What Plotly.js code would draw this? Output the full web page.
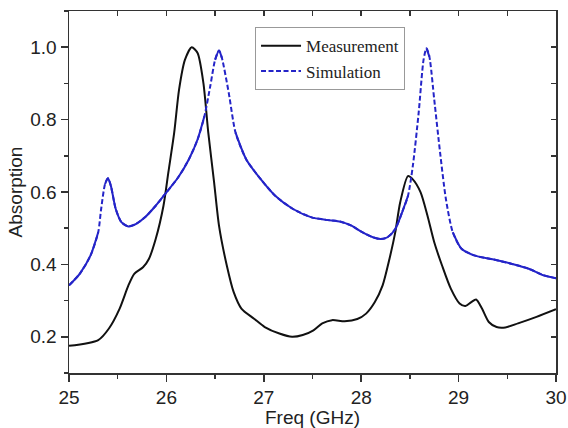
<!DOCTYPE html>
<html>
<head>
<meta charset="utf-8">
<script src="https://cdn.plot.ly/plotly-3.0.1.min.js"></script>
<style>html,body{margin:0;padding:0;background:#fff;}#chart{width:568px;height:428px;}</style>
</head>
<body>
<div id="chart"></div>
<script>
// Measurement (black solid)
const measFreq = [25.0, 25.30, 25.41, 25.52, 25.61, 25.67, 25.76, 25.82, 25.89, 25.97, 26.02, 26.08, 26.13, 26.19, 26.26, 26.32, 26.38, 26.43, 26.49, 26.54, 26.62, 26.69, 26.77, 26.90, 27.01, 27.16, 27.29, 27.40, 27.51, 27.60, 27.70, 27.83, 27.96, 28.05, 28.14, 28.22, 28.29, 28.35, 28.40, 28.48, 28.53, 28.61, 28.68, 28.75, 28.83, 28.92, 29.01, 29.07, 29.13, 29.18, 29.24, 29.31, 29.39, 29.48, 29.61, 29.80, 30.0];
const measAbs = [0.175, 0.191, 0.223, 0.278, 0.342, 0.374, 0.392, 0.415, 0.47, 0.562, 0.654, 0.764, 0.883, 0.965, 1.0, 0.984, 0.901, 0.764, 0.626, 0.507, 0.397, 0.324, 0.278, 0.25, 0.227, 0.209, 0.2, 0.205, 0.218, 0.237, 0.246, 0.243, 0.249, 0.264, 0.296, 0.342, 0.415, 0.489, 0.571, 0.644, 0.635, 0.599, 0.535, 0.461, 0.397, 0.333, 0.292, 0.285, 0.296, 0.303, 0.278, 0.241, 0.227, 0.226, 0.237, 0.255, 0.276];

// Simulation (blue dashed)
const simFreq = [25.0, 25.11, 25.22, 25.30, 25.33, 25.37, 25.40, 25.43, 25.48, 25.54, 25.61, 25.69, 25.78, 25.89, 26.00, 26.12, 26.23, 26.32, 26.39, 26.45, 26.50, 26.54, 26.57, 26.64, 26.71, 26.82, 26.97, 27.12, 27.30, 27.49, 27.64, 27.79, 27.90, 28.01, 28.12, 28.20, 28.27, 28.35, 28.42, 28.48, 28.53, 28.59, 28.64, 28.67, 28.70, 28.75, 28.81, 28.87, 28.94, 29.03, 29.16, 29.35, 29.54, 29.72, 29.87, 30.0];
const simAbs = [0.342, 0.374, 0.424, 0.489, 0.553, 0.622, 0.638, 0.617, 0.553, 0.516, 0.505, 0.512, 0.53, 0.562, 0.599, 0.64, 0.69, 0.745, 0.809, 0.892, 0.965, 0.991, 0.97, 0.874, 0.764, 0.69, 0.635, 0.589, 0.553, 0.53, 0.523, 0.518, 0.507, 0.489, 0.475, 0.47, 0.475, 0.498, 0.544, 0.589, 0.672, 0.819, 0.965, 0.997, 0.974, 0.855, 0.709, 0.58, 0.489, 0.443, 0.425, 0.414, 0.402, 0.388, 0.37, 0.362];

const seriesNames = ['Measurement', 'Simulation'];
const xTitle = 'Freq (GHz)';
const yTitle = 'Absorption';

// Where the simulated curve is gentle it renders as a continuous line (as in the source plot);
// steep stretches show the dash pattern.
const slopeLimit = 3.6; // in pixel-ratio terms
const pxPerX = 97.4, pxPerY = 362.5;
const simSolid = simAbs.map((v, i) => {
  const sl = (j, k) => Math.abs((simAbs[k] - simAbs[j]) * pxPerY / ((simFreq[k] - simFreq[j]) * pxPerX));
  const a = i > 0 ? sl(i - 1, i) : 0;
  const b = i < simAbs.length - 1 ? sl(i, i + 1) : 0;
  return (a > slopeLimit && b > slopeLimit) ? null : v;
});

const blue = '#2424c8';
const tickFont = {family: 'Liberation Sans, Arial, sans-serif', size: 19, color: '#222'};

const traces = [
  {x: measFreq, y: measAbs, name: seriesNames[0], type: 'scatter', mode: 'lines',
   line: {color: '#111', width: 2, shape: 'spline', smoothing: 0.7}},
  {x: simFreq, y: simAbs, name: seriesNames[1], type: 'scatter', mode: 'lines',
   line: {color: blue, width: 2, dash: '5px,2.5px', shape: 'spline', smoothing: 0.7}},
  {x: simFreq, y: simSolid, name: seriesNames[1], type: 'scatter', mode: 'lines', showlegend: false,
   connectgaps: false,
   line: {color: blue, width: 2, shape: 'spline', smoothing: 0.7}},
  // invisible helper trace carrying mirrored inside ticks on top/right
  {x: [25, 30], y: [0.1, 1.1], xaxis: 'x2', yaxis: 'y2', mode: 'none', showlegend: false, hoverinfo: 'skip'}
];

const layout = {
  width: 568, height: 428,
  margin: {l: 69, r: 12, t: 11, b: 55},
  paper_bgcolor: '#fff', plot_bgcolor: '#fff',
  showlegend: true,
  legend: {x: 0.382, y: 0.955, xanchor: 'left', yanchor: 'top',
    bgcolor: '#fff', bordercolor: '#999', borderwidth: 1,
    font: {family: 'Liberation Serif, Times New Roman, serif', size: 17, color: '#222'},
    tracegroupgap: 0, itemwidth: 40},
  xaxis: {range: [25, 30], dtick: 1, tick0: 25, showgrid: false, zeroline: false,
    showline: true, linecolor: '#333', linewidth: 1.5, mirror: true,
    ticks: 'outside', ticklen: 7, tickwidth: 1.5, tickcolor: '#333',
    minor: {dtick: 0.5, ticks: 'outside', ticklen: 4, tickwidth: 1.5, tickcolor: '#333', showgrid: false},
    tickfont: tickFont,
    title: {text: xTitle, font: tickFont, standoff: 2}},
  yaxis: {range: [0.1, 1.1], dtick: 0.2, tick0: 0, tickformat: '.1f', showgrid: false, zeroline: false,
    showline: true, linecolor: '#333', linewidth: 1.5, mirror: true,
    ticks: 'outside', ticklen: 7, tickwidth: 1.5, tickcolor: '#333',
    minor: {dtick: 0.1, ticks: 'outside', ticklen: 4, tickwidth: 1.5, tickcolor: '#333', showgrid: false},
    tickfont: tickFont,
    title: {text: yTitle, font: tickFont, standoff: 2}},
  xaxis2: {overlaying: 'x', side: 'top', range: [25, 30], dtick: 0.5, tick0: 25,
    ticks: 'inside', ticklen: 5, tickwidth: 1.5, tickcolor: '#333',
    showticklabels: false, showgrid: false, zeroline: false, showline: false},
  yaxis2: {overlaying: 'y', side: 'right', range: [0.1, 1.1], dtick: 0.1, tick0: 0,
    ticks: 'inside', ticklen: 5, tickwidth: 1.5, tickcolor: '#333',
    showticklabels: false, showgrid: false, zeroline: false, showline: false}
};

Plotly.newPlot('chart', traces, layout, {staticPlot: true, displayModeBar: false});
</script>
</body>
</html>
